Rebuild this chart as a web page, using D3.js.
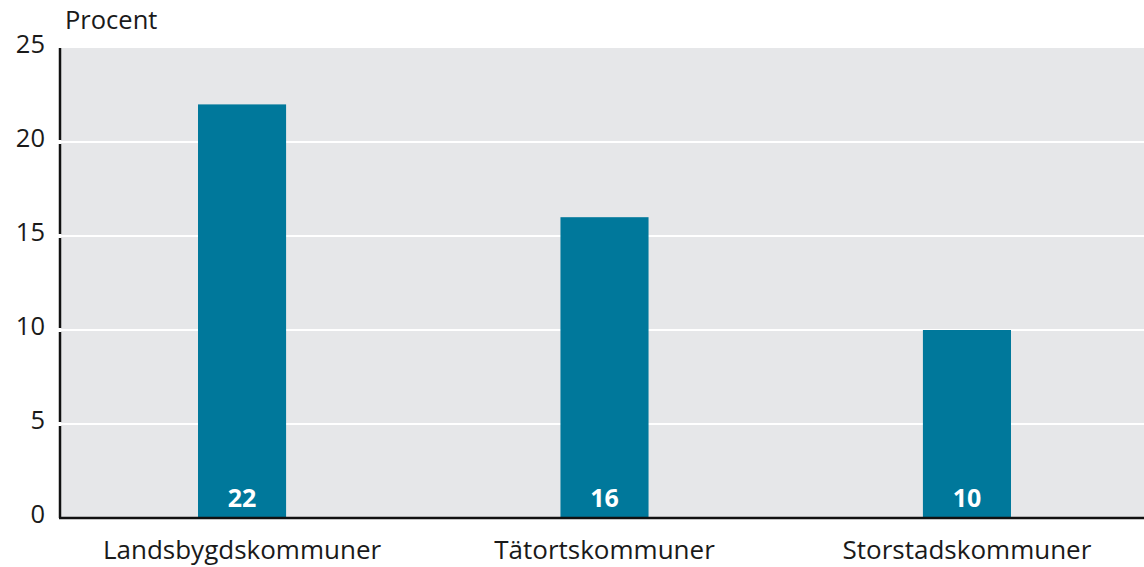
<!DOCTYPE html>
<html>
<head>
<meta charset="utf-8">
<script src="https://cdn.jsdelivr.net/npm/d3@7"></script>
<style>
  body { margin: 0; background: #fff; }
  text { font-family: "Open Sans", sans-serif; fill: #1a1a1a; }
</style>
</head>
<body>
<div id="chart"></div>
<script>
// data
var categories = ["Landsbygdskommuner", "Tätortskommuner", "Storstadskommuner"];
var values = [22, 16, 10];
var yTicks = [0, 5, 10, 15, 20, 25];

var W = 1144, H = 567;
var margin = {top: 48, right: 0, bottom: 49, left: 61};
var width = W - margin.left - margin.right,
    height = H - margin.top - margin.bottom;

var svg = d3.select("#chart").append("svg")
    .attr("width", W).attr("height", H);

var g = svg.append("g")
    .attr("transform", "translate(" + margin.left + "," + margin.top + ")");

var x = d3.scaleBand()
    .domain(categories)
    .range([0, 1087])
    .paddingInner(0.757)
    .paddingOuter(0.378);

var y = d3.scaleLinear()
    .domain([0, 25])
    .range([height, 0]);

// background
g.append("rect")
    .attr("width", width).attr("height", height)
    .attr("fill", "#e6e7e9");

// gridlines
g.selectAll(".grid")
  .data(yTicks.filter(function(d) { return d > 0 && d < 25; }))
  .enter().append("line")
    .attr("x1", -3).attr("x2", width)
    .attr("y1", function(d) { return y(d); })
    .attr("y2", function(d) { return y(d); })
    .attr("stroke", "#fff").attr("stroke-width", 2);

// left axis line with gaps at gridlines
var segs = d3.pairs(yTicks.slice().reverse());
g.selectAll(".yseg")
  .data(segs)
  .enter().append("line")
    .attr("x1", -1).attr("x2", -1)
    .attr("y1", function(d) { return y(d[0]) + (d[0] < 25 ? 2 : 0); })
    .attr("y2", function(d) { return y(d[1]) - (d[1] > 0 ? 2 : 0); })
    .attr("stroke", "#111").attr("stroke-width", 2.5);

// bars
g.selectAll(".bar")
  .data(values)
  .enter().append("rect")
    .attr("x", function(d, i) { return x(categories[i]); })
    .attr("width", x.bandwidth())
    .attr("y", function(d) { return y(d); })
    .attr("height", function(d) { return height - y(d); })
    .attr("fill", "#00789b");

// value labels
g.selectAll(".val")
  .data(values)
  .enter().append("text")
    .attr("x", function(d, i) { return x(categories[i]) + x.bandwidth() / 2; })
    .attr("y", height - 11)
    .attr("text-anchor", "middle")
    .style("fill", "#fff")
    .style("font-weight", "bold")
    .style("font-size", "25px")
    .text(function(d) { return d; });

// bottom axis line
g.append("line")
    .attr("x1", -2).attr("x2", width)
    .attr("y1", height).attr("y2", height)
    .attr("stroke", "#111").attr("stroke-width", 2.5);

// y tick labels
g.selectAll(".ytick")
  .data(yTicks)
  .enter().append("text")
    .attr("x", -16)
    .attr("y", function(d) { return y(d) - 4; })
    .attr("dy", "0.35em")
    .attr("text-anchor", "end")
    .style("font-size", "25.5px")
    .text(function(d) { return d; });

// x category labels
g.selectAll(".xlab")
  .data(categories)
  .enter().append("text")
    .attr("x", function(d) { return x(d) + x.bandwidth() / 2; })
    .attr("y", height + 41)
    .attr("text-anchor", "middle")
    .style("font-size", "26px")
    .text(function(d) { return d; });

// unit label
svg.append("text")
    .attr("x", 65).attr("y", 29)
    .style("font-size", "25.5px")
    .text("Procent");
</script>
</body>
</html>
